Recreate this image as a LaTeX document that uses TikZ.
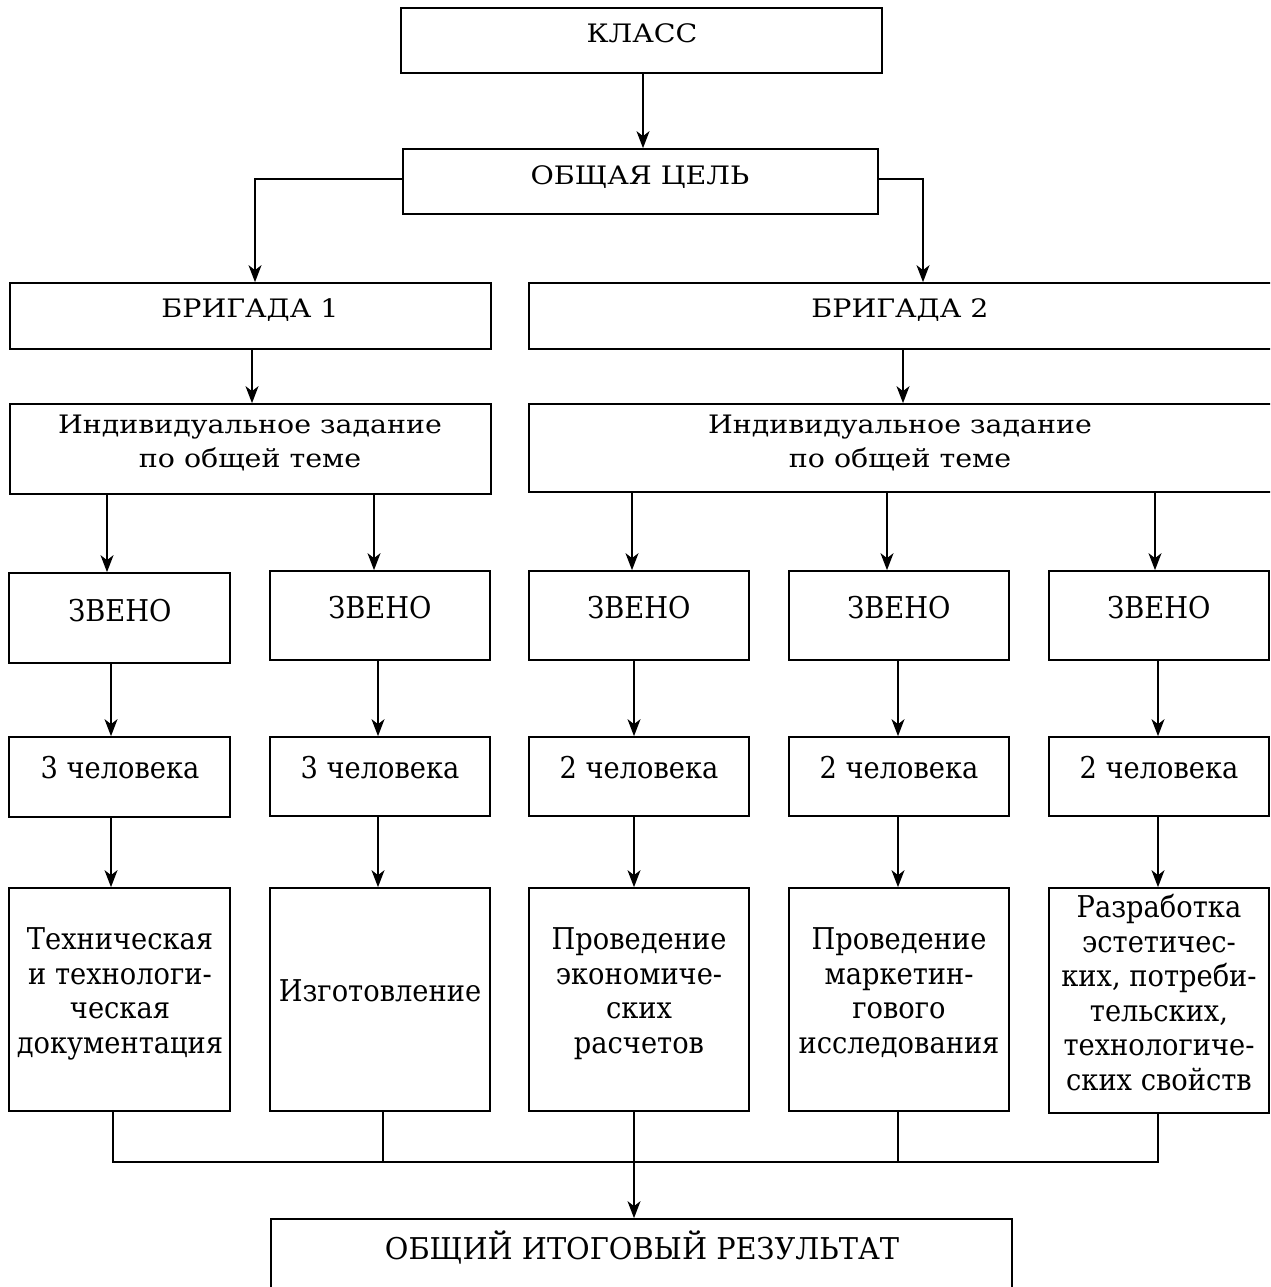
\documentclass[tikz,border=0pt]{standalone}
\usepackage{fontspec}
\setmainfont{DejaVu Serif}
\newfontfamily\headfont[FakeStretch=1.12]{DejaVu Serif}
\newfontfamily\bodyfont[FakeStretch=0.91]{DejaVu Serif}
\newfontfamily\resultfont[FakeStretch=0.96]{DejaVu Serif}
\usetikzlibrary{arrows.meta}
\begin{document}
\begin{tikzpicture}[x=1pt,y=-1pt,
  box/.style={draw,line width=1.7pt,inner sep=0pt},
  smalltxt/.style={font=\headfont\fontsize{25.4}{34}\selectfont,inner sep=0pt,align=center,anchor=base},
  bigtxt/.style={font=\bodyfont\fontsize{30}{34.5}\selectfont,inner sep=0pt,align=center,anchor=base},
  link/.style={line width=1.5pt},
  arr/.style={line width=1.5pt,-{Stealth[length=17pt,width=13pt,inset=5pt]}}]
\useasboundingbox (0,0) rectangle (1270,1287);
\begin{scope}
\clip (0,0) rectangle (1270,1287);
% boxes: corner to corner
\newcommand\mkbox[5]{\node[box,minimum width={#4-#2},minimum height={#5-#3}] (#1) at ({(#2+#4)/2},{(#3+#5)/2}) {};}
\mkbox{klass}{401}{8}{882}{73}
\mkbox{goal}{403}{149}{878}{214}
\mkbox{brA}{10}{283}{491}{349}
\mkbox{brB}{529}{283}{1273}{349}
\mkbox{indA}{10}{404}{491}{494}
\mkbox{indB}{529}{404}{1273}{492}
\mkbox{zA}{9}{573}{230}{663}
\mkbox{zB}{270}{571}{490}{660}
\mkbox{zC}{529}{571}{749}{660}
\mkbox{zD}{789}{571}{1009}{660}
\mkbox{zE}{1049}{571}{1269}{660}
\mkbox{pA}{9}{737}{230}{817}
\mkbox{pB}{270}{737}{490}{816}
\mkbox{pC}{529}{737}{749}{816}
\mkbox{pD}{789}{737}{1009}{816}
\mkbox{pE}{1049}{737}{1269}{816}
\mkbox{dA}{9}{888}{230}{1111}
\mkbox{dB}{270}{888}{490}{1111}
\mkbox{dC}{529}{888}{749}{1111}
\mkbox{dD}{789}{888}{1009}{1111}
\mkbox{dE}{1049}{888}{1269}{1113}
\mkbox{res}{271}{1219}{1012}{1310}
\end{scope}

% labels (multi-line labels are placed by the baseline of their last line)
\node[smalltxt] (tklass) at (642,43) {КЛАСС};
\node[smalltxt] (tgoal) at (640,184) {ОБЩАЯ ЦЕЛЬ};
\node[smalltxt] (tbrA) at (250,317) {БРИГАДА 1};
\node[smalltxt] (tbrB) at (900,317) {БРИГАДА 2};
\node[smalltxt] (tindA) at (250,467) {Индивидуальное задание\\по общей теме};
\node[smalltxt] (tindB) at (900,467) {Индивидуальное задание\\по общей теме};
\node[bigtxt] (tzA) at (120,621) {ЗВЕНО};
\node[bigtxt] (tzB) at (380,618) {ЗВЕНО};
\node[bigtxt] (tzC) at (639,618) {ЗВЕНО};
\node[bigtxt] (tzD) at (899,618) {ЗВЕНО};
\node[bigtxt] (tzE) at (1159,618) {ЗВЕНО};
\node[bigtxt] (tpA) at (120,778) {3 человека};
\node[bigtxt] (tpB) at (380,778) {3 человека};
\node[bigtxt] (tpC) at (639,778) {2 человека};
\node[bigtxt] (tpD) at (899,778) {2 человека};
\node[bigtxt] (tpE) at (1159,778) {2 человека};
\node[bigtxt] (tdA) at (120,1053) {Техническая\\и технологи-\\ческая\\документация};
\node[bigtxt] (tdB) at (380,1001) {Изготовление};
\node[bigtxt] (tdC) at (639,1053) {Проведение\\экономиче-\\ских\\расчетов};
\node[bigtxt] (tdD) at (899,1053) {Проведение\\маркетин-\\гового\\исследования};
\node[bigtxt] (tdE) at (1159,1090) {Разработка\\эстетичес-\\ких, потреби-\\тельских,\\технологиче-\\ских свойств};
\node[bigtxt,font=\resultfont\fontsize{30}{34.5}\selectfont] (tres) at (642,1259) {ОБЩИЙ ИТОГОВЫЙ РЕЗУЛЬТАТ};

% connectors
\draw[arr] (klass.south -| 643,0) -- (goal.north -| 643,0);
\draw[arr] (goal.west |- 0,179) -| (brA.north -| 255,0);
\draw[arr] (goal.east |- 0,179) -| (brB.north -| 923,0);
\draw[arr] (brA.south -| 252,0) -- (indA.north -| 252,0);
\draw[arr] (brB.south -| 903,0) -- (indB.north -| 903,0);
\draw[arr] (indA.south -| 107,0) -- (zA.north -| 107,0);
\draw[arr] (indA.south -| 374,0) -- (zB.north -| 374,0);
\draw[arr] (indB.south -| 632,0) -- (zC.north -| 632,0);
\draw[arr] (indB.south -| 887,0) -- (zD.north -| 887,0);
\draw[arr] (indB.south -| 1155,0) -- (zE.north -| 1155,0);
\foreach \r/\x in {A/111,B/378,C/634,D/898,E/1158}{
  \draw[arr] (z\r.south -| \x,0) -- (p\r.north -| \x,0);
  \draw[arr] (p\r.south -| \x,0) -- (d\r.north -| \x,0);
}
\coordinate (joinL) at (113,1162);
\coordinate (joinM) at (634,1162);
\coordinate (joinR) at (1158,1162);
\draw[link] (dA.south -| joinL) -- (joinL) -- (joinR) -- (dE.south -| joinR);
\draw[link] (dB.south -| 383,0) -- (joinL -| 383,0);
\draw[link] (dC.south -| joinM) -- (joinM);
\draw[link] (dD.south -| 898,0) -- (joinL -| 898,0);
\draw[arr] (joinM) -- (res.north -| joinM);
\end{tikzpicture}
\end{document}
